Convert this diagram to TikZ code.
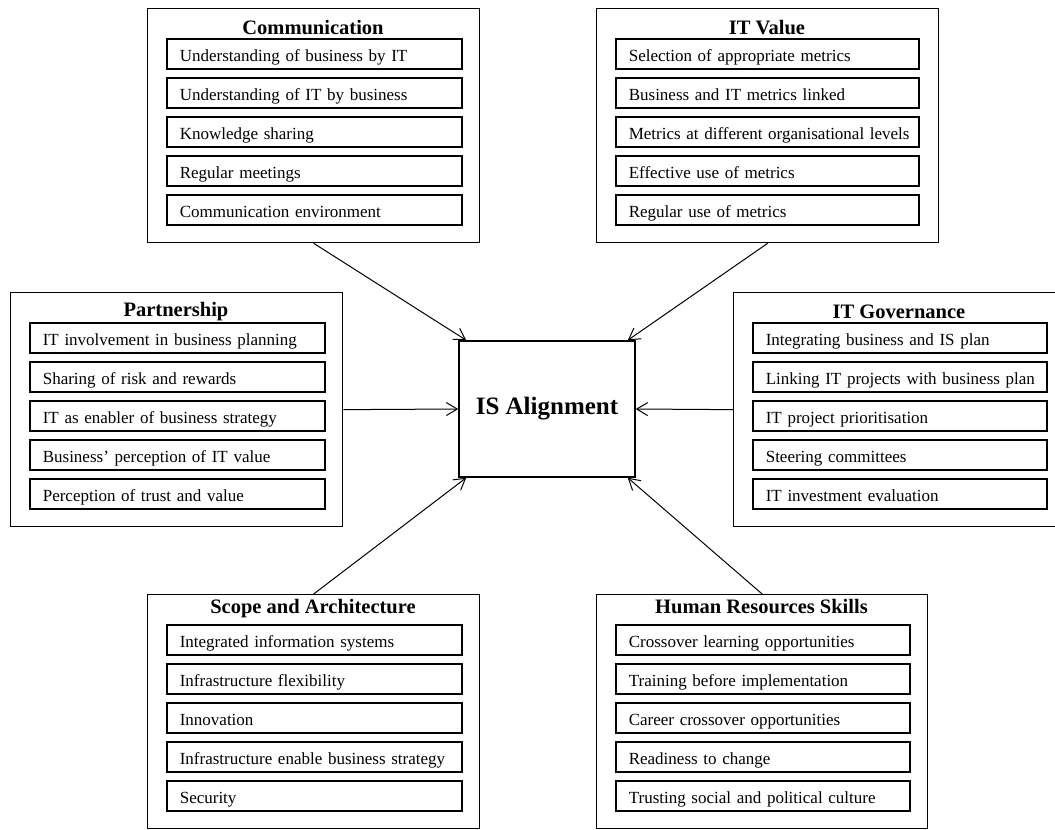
\documentclass[tikz,border=0pt]{standalone}
\usepackage{fontspec}
\setmainfont{Liberation Serif}
\usetikzlibrary{arrows.meta,calc}

\tikzset{
  groupbox/.style={draw, line width=1.3pt, rectangle, inner sep=0pt, anchor=north west, minimum height=234pt},
  itembox/.style={draw, line width=1.6pt, rectangle, anchor=north west, inner xsep=13pt, inner ysep=0pt,
    minimum height=30pt, text height=15pt, text depth=0pt, align=left,
    font=\fontsize{17}{17}\selectfont},
  grouptitle/.style={anchor=base, inner sep=0pt, font=\fontsize{20.5}{20.5}\selectfont\bfseries},
  hub/.style={draw, line width=1.5pt, rectangle, minimum width=176pt, minimum height=136pt,
    font=\fontsize{25}{25}\selectfont\bfseries},
  feed/.style={line width=1pt, -{Straight Barb[length=11pt,width=13pt]}}
}

% #1 name, #2 left, #3 top, #4 outer width, #5 item width, #6 title baseline offset, #7 title, #8 items
\newcommand\factorgroup[8]{%
  \node[groupbox, minimum width=#4pt] (#1) at (#2,#3) {};
  \node[grouptitle] (#1-title) at (#2+#4/2, #3+#6) {#7};
  \foreach \t [count=\k] in {#8} {
    \node[itembox, text width=#5pt-26pt] (#1-\k) at (#2+19, #3+30+39*\k-39) {\mbox{\t}};
  }%
}

\begin{document}
\begin{tikzpicture}[x=1pt, y=-1pt]
  \useasboundingbox (0,0) rectangle (1055,830);
  \clip (0,0) rectangle (1055,830);

  \factorgroup{com}{147}{8}{332}{295}{26}{Communication}{
    Understanding of business by IT,
    Understanding of IT by business,
    Knowledge sharing,
    Regular meetings,
    Communication environment}

  \factorgroup{itv}{596}{8}{342}{303}{26}{IT Value}{
    Selection of appropriate metrics,
    Business and IT metrics linked,
    Metrics at different organisational levels,
    Effective use of metrics,
    Regular use of metrics}

  \factorgroup{par}{10}{292}{332}{295}{24}{Partnership}{
    IT involvement in business planning,
    Sharing of risk and rewards,
    IT as enabler of business strategy,
    Business’ perception of IT value,
    Perception of trust and value}

  \factorgroup{gov}{733}{292}{332}{294}{26}{IT Governance}{
    Integrating business and IS plan,
    Linking IT projects with business plan,
    IT project prioritisation,
    Steering committees,
    IT investment evaluation}

  \factorgroup{sco}{147}{594}{332}{295}{19}{Scope and Architecture}{
    Integrated information systems,
    Infrastructure flexibility,
    Innovation,
    Infrastructure enable business strategy,
    Security}

  \factorgroup{hrs}{596}{594}{331}{294}{19}{Human Resources Skills}{
    Crossover learning opportunities,
    Training before implementation,
    Career crossover opportunities,
    Readiness to change,
    Trusting social and political culture}

  % central construct
  \node[hub] (isa) at (547,409) {IS Alignment};

  % influences on alignment
  \draw[feed] (com.south) -- ([xshift=8pt]isa.north west);
  \draw[feed] (itv.south) -- ([xshift=-8pt]isa.north east);
  \draw[feed] (par.east) -- (isa.west);
  \draw[feed] (gov.west) -- (isa.east);
  \draw[feed] (sco.north) -- ([xshift=8pt]isa.south west);
  \draw[feed] (hrs.north) -- ([xshift=-8pt]isa.south east);
\end{tikzpicture}
\end{document}
